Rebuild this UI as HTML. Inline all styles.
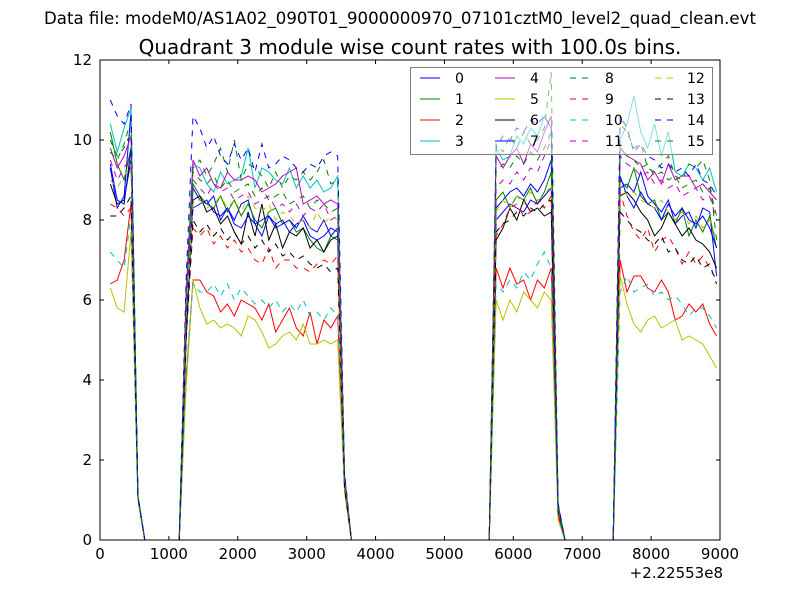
<!DOCTYPE html>
<html><head><meta charset="utf-8"><style>
body{margin:0;background:#fff}
svg{display:block;font-family:"DejaVu Sans","Liberation Sans",sans-serif}
</style></head><body>
<svg id="c" width="800" height="600"></svg>
<script>
const times=[150,250,350,450,550,650,750,850,950,1050,1150,1250,1350,1450,1550,1650,1750,1850,1950,2050,2150,2250,2350,2450,2550,2650,2750,2850,2950,3050,3150,3250,3350,3450,3550,3650,3750,3850,3950,4050,4150,4250,4350,4450,4550,4650,4750,4850,4950,5050,5150,5250,5350,5450,5550,5650,5750,5850,5950,6050,6150,6250,6350,6450,6550,6650,6750,6850,6950,7050,7150,7250,7350,7450,7550,7650,7750,7850,7950,8050,8150,8250,8350,8450,8550,8650,8750,8850,8950];
const Z6=[0,0,0,0,0,0];
const Z21=[0,0,0,0,0,0,0,0,0,0,0,0,0,0,0,0,0,0,0,0,0];
const Z8=[0,0,0,0,0,0,0,0];
const s0=[9.3,8.3,8.6,10.7,1.1,...Z6,5.5,8.8,8.5,8.4,8.6,8.0,8.3,8.0,8.4,8.5,7.9,7.6,8.1,7.9,8.0,7.7,7.9,8.0,7.6,7.5,7.6,7.8,7.7,1.4,...Z21,8.3,8.5,8.7,8.8,8.6,8.9,8.7,9.0,9.5,0.8,...Z8,8.8,8.9,8.7,9.2,8.6,8.4,8.2,8.5,7.9,8.1,8.2,7.8,8.3,8.2,6.6];
const s1=[10.2,9.4,9.0,9.8,1.1,...Z6,5.3,8.9,8.6,8.4,8.3,8.6,8.2,8.5,8.1,8.4,8.0,7.8,8.2,8.3,7.9,8.0,7.7,7.8,7.5,7.3,7.2,7.6,7.5,1.4,...Z21,8.5,8.7,8.3,8.6,8.5,8.8,8.4,8.7,9.2,0.8,...Z8,9.0,8.8,9.3,8.6,8.4,8.5,8.0,8.2,7.9,8.3,7.6,8.0,7.7,8.1,7.3];
const s2=[6.4,6.5,7.0,8.4,1.1,...Z6,4.0,6.5,6.5,6.2,6.1,5.7,5.9,5.6,6.0,5.9,5.8,5.5,5.9,5.2,5.5,5.8,5.3,5.1,5.7,4.9,5.5,5.3,5.6,1.3,...Z21,6.8,6.3,6.8,6.4,6.5,6.0,6.5,6.3,6.8,0.6,...Z8,7.0,6.2,6.6,6.6,6.3,6.2,6.5,6.2,5.5,5.6,5.9,5.7,5.9,5.4,5.1];
const s3=[10.4,9.7,10.3,10.8,1.1,...Z6,6.0,9.4,9.3,8.9,8.7,9.2,8.9,9.0,9.1,9.8,8.8,9.3,9.2,9.0,8.9,9.3,8.8,9.1,8.8,9.0,8.7,8.8,9.1,1.6,...Z21,9.8,9.5,9.6,10.1,9.9,10.3,10.1,10.6,10.3,0.9,...Z8,10.0,10.4,11.1,10.2,9.8,10.4,9.6,10.2,9.2,9.1,9.4,9.3,9.0,9.3,8.7];
const s4=[9.8,9.3,9.6,10.1,1.1,...Z6,6.2,9.5,9.1,9.3,8.9,8.8,9.2,9.0,9.0,9.1,9.0,8.7,8.8,8.9,9.1,9.2,9.3,8.4,8.5,8.6,8.4,8.5,8.4,1.6,...Z21,9.6,9.3,9.6,9.8,9.4,9.9,9.7,10.2,10.6,0.9,...Z8,9.8,9.6,9.5,9.4,9.0,9.2,8.9,9.4,9.0,9.1,9.1,8.8,8.9,8.7,8.5];
const s5=[6.3,5.8,5.7,7.7,1.0,...Z6,3.8,6.5,5.8,5.4,5.5,5.3,5.4,5.3,5.1,5.6,5.5,5.2,4.8,4.9,5.1,5.2,5.0,5.4,4.9,4.9,5.0,4.9,5.0,1.2,...Z21,6.0,5.5,6.0,5.7,6.2,6.0,5.8,6.2,6.0,0.5,...Z8,6.6,5.9,5.4,5.2,5.5,5.6,5.3,5.4,5.5,5.0,5.1,5.0,4.9,4.6,4.3];
const s6=[8.9,8.4,8.5,9.5,1.1,...Z6,5.0,8.5,8.6,8.2,8.3,7.9,8.1,7.7,7.4,8.2,7.6,8.4,7.5,7.9,7.3,7.7,7.6,7.8,7.3,7.5,7.2,7.5,7.6,1.3,...Z21,7.5,7.8,8.3,8.0,8.5,8.2,8.3,8.1,8.2,0.7,...Z8,8.6,8.7,8.5,8.2,8.0,7.6,7.8,8.2,7.9,7.6,7.8,7.5,7.4,7.2,6.8];
const s7=[9.4,8.5,8.4,9.8,1.1,...Z6,5.4,8.3,8.4,8.5,8.2,8.1,8.3,7.9,7.8,8.1,7.9,8.0,8.1,7.8,7.9,8.0,7.8,8.1,7.8,7.7,8.0,7.6,7.8,1.4,...Z21,8.0,8.2,8.4,8.3,8.2,8.5,8.4,8.6,8.8,0.8,...Z8,9.1,8.6,8.3,8.7,8.4,8.3,8.0,8.4,8.1,8.3,8.0,7.9,8.1,7.8,7.3];
const s8=[9.7,9.5,9.9,10.5,1.1,...Z6,6.3,9.3,9.5,9.1,9.4,9.8,9.2,10.0,9.0,9.4,9.3,9.1,8.8,9.2,8.8,9.1,9.0,9.2,9.0,9.2,9.5,8.9,9.0,1.6,...Z21,9.9,9.7,10.1,9.8,10.2,9.9,10.0,10.3,11.7,0.9,...Z8,10.4,10.2,9.8,9.9,9.3,9.2,9.4,9.6,9.1,9.0,9.4,9.3,9.5,9.0,7.5];
const s9=[8.4,8.3,8.1,8.3,1.1,...Z6,5.0,7.8,7.6,7.8,7.4,7.6,7.3,7.5,7.2,7.3,7.0,6.9,7.3,6.8,7.0,7.0,6.8,6.8,6.7,6.9,7.0,6.9,7.1,1.3,...Z21,7.6,7.9,8.3,8.4,8.1,8.2,8.5,8.3,8.6,0.7,...Z8,8.7,8.1,7.7,7.5,7.8,7.2,7.5,7.6,7.3,6.9,7.2,6.9,7.1,6.8,6.5];
const s10=[7.2,7.0,6.8,8.1,1.0,...Z6,4.2,6.4,6.2,6.2,6.4,6.1,6.4,6.0,6.3,6.1,5.9,6.0,5.8,6.0,5.7,5.9,5.7,6.0,5.6,5.7,5.5,5.8,5.6,1.3,...Z21,6.4,6.2,6.5,6.3,6.7,6.5,6.9,7.2,6.8,0.6,...Z8,6.2,6.6,6.2,6.3,6.4,6.1,6.2,6.0,6.1,5.9,5.6,5.8,5.8,5.6,5.3];
const s11=[9.5,9.0,9.3,9.6,1.1,...Z6,5.8,9.0,8.8,8.6,8.9,8.7,8.8,8.5,8.6,8.7,8.4,8.5,8.6,8.3,8.4,8.2,8.4,8.1,8.3,8.2,8.4,8.0,8.1,1.5,...Z21,8.8,9.0,8.9,9.2,9.0,9.3,9.2,9.6,10.0,0.8,...Z8,9.6,9.4,9.3,9.1,9.2,8.9,9.0,8.8,8.9,8.6,8.7,8.8,8.5,8.6,8.0];
const s12=[9.0,8.8,9.1,9.4,1.1,...Z6,5.6,8.4,8.5,8.3,8.4,8.6,8.3,8.5,8.2,8.6,8.3,8.2,8.4,8.0,8.2,8.1,7.9,8.0,7.8,8.2,7.9,8.1,8.0,1.4,...Z21,8.2,8.5,8.3,8.6,8.4,8.7,8.5,8.6,8.9,0.8,...Z8,8.9,8.6,8.7,8.5,8.4,8.3,8.5,8.2,8.0,8.2,7.9,8.1,7.8,8.0,7.5];
const s13=[8.1,8.1,8.3,8.6,1.1,...Z6,5.0,8.0,7.7,7.9,7.6,7.8,7.5,7.7,7.4,7.6,7.3,7.5,7.2,7.4,7.1,7.2,7.0,7.1,6.9,6.8,6.9,6.7,6.8,1.3,...Z21,7.7,7.9,8.0,8.2,8.1,8.3,8.2,8.4,8.5,0.7,...Z8,8.2,8.0,7.8,7.7,7.5,7.4,7.6,7.2,7.3,7.0,6.9,7.1,6.8,6.9,6.4];
const s14=[11.0,10.6,10.4,10.9,1.1,...Z6,6.5,10.6,10.3,9.8,10.1,9.6,9.4,9.9,9.5,9.8,9.2,9.9,9.3,9.4,9.6,9.5,9.3,9.2,9.4,9.3,9.6,9.7,9.6,1.7,...Z21,9.8,10.1,10.0,10.3,10.2,10.5,10.4,10.6,10.3,0.9,...Z8,10.6,10.3,9.7,9.9,9.6,9.5,9.3,9.4,9.2,9.3,9.1,9.4,9.0,8.9,8.6];
const s15=[10.0,9.6,9.8,10.2,1.1,...Z6,6.0,9.2,9.0,8.9,9.1,8.8,9.0,8.7,8.8,8.9,8.6,8.8,8.5,8.6,8.7,8.4,8.5,8.6,8.3,8.5,8.4,8.2,8.3,1.5,...Z21,9.2,9.4,9.3,9.6,9.4,9.7,9.5,9.8,10.2,0.8,...Z8,9.8,9.6,9.5,9.3,9.4,9.1,9.2,9.0,9.1,8.8,8.9,9.0,8.7,8.8,8.1];
const seriesLabels=["0","1","2","3","4","5","6","7","8","9","10","11","12","13","14","15"];
const xTicks=[0,1000,2000,3000,4000,5000,6000,7000,8000,9000];
const yTicks=[0,2,4,6,8,10,12];
const allSeries=[s0,s1,s2,s3,s4,s5,s6,s7,s8,s9,s10,s11,s12,s13,s14,s15];

const L=100,R=720,T=60,B=540;
const xs=v=>L+(v-0)/9000*(R-L);
const ys=v=>B-(v/12)*(B-T);
const colors=["#0000ff","#008000","#ff0000","#00bfbf","#bf00bf","#bfbf00","#000000"];
const NS="http://www.w3.org/2000/svg";
const svg=document.getElementById('c');
function mk(tag,attrs,parent){const e=document.createElementNS(NS,tag);for(const k in attrs)e.setAttribute(k,attrs[k]);(parent||svg).appendChild(e);return e;}

let t=mk('text',{x:400,y:24,'text-anchor':'middle','font-size':16.6});
t.textContent="Data file: modeM0/AS1A02_090T01_9000000970_07101cztM0_level2_quad_clean.evt";


t=mk('text',{x:410,y:54,'text-anchor':'middle','font-size':20});
t.textContent="Quadrant 3 module wise count rates with 100.0s bins.";



const defs=mk('defs',{});
const cp=mk('clipPath',{id:'clip'},defs);
mk('rect',{x:L,y:T,width:R-L,height:B-T},cp);
const g=mk('g',{'clip-path':'url(#clip)'});


allSeries.forEach((vals,i)=>{
  const pts=vals.map((v,j)=>xs(times[j]).toFixed(2)+','+ys(v).toFixed(2)).join(' ');
  const p=mk('polyline',{points:pts,fill:'none',stroke:colors[i%7],'stroke-width':1});
  if(i>=8)p.setAttribute('stroke-dasharray','6,6');
  
  
});

const frame=mk('rect',{x:L,y:T,width:R-L,height:B-T,fill:'none',stroke:'#000','stroke-width':1});



xTicks.forEach(v=>{
  const x=xs(v);
  mk('line',{x1:x,y1:B,x2:x,y2:B-4,stroke:'#000'});
  mk('line',{x1:x,y1:T,x2:x,y2:T+4,stroke:'#000'});
  const tx=mk('text',{x:x,y:B+19,'text-anchor':'middle','font-size':15});
  tx.textContent=v;
  
  
});
yTicks.forEach(v=>{
  const y=ys(v);
  mk('line',{x1:L,y1:y,x2:L+4,y2:y,stroke:'#000'});
  mk('line',{x1:R,y1:y,x2:R-4,y2:y,stroke:'#000'});
  const tx=mk('text',{x:L-8,y:y+5,'text-anchor':'end','font-size':15});
  tx.textContent=v;
  
  
});
t=mk('text',{x:723,y:578,'text-anchor':'end','font-size':15});
t.textContent="+2.22553e8";



const lg=mk('g',{});


mk('rect',{x:410.5,y:67.5,width:302,height:87,fill:'#fff','fill-opacity':0.5,stroke:'#808080','stroke-width':1},lg);
const colX=[420,495,570,655],labX=[455,530,605,687],rowY=[78,99,120,141];
seriesLabels.forEach((lab,i)=>{
  const c=Math.floor(i/4),r=i%4;
  const e=mk('g',{},lg);
  
  
  const ln=mk('line',{x1:colX[c],y1:rowY[r],x2:colX[c]+20,y2:rowY[r],stroke:colors[i%7],'stroke-width':1},e);
  if(i>=8)ln.setAttribute('stroke-dasharray','6,6');
  const tx=mk('text',{x:labX[c],y:rowY[r]+5,'font-size':14},e);
  tx.textContent=lab;
});
</script>
</body></html>
